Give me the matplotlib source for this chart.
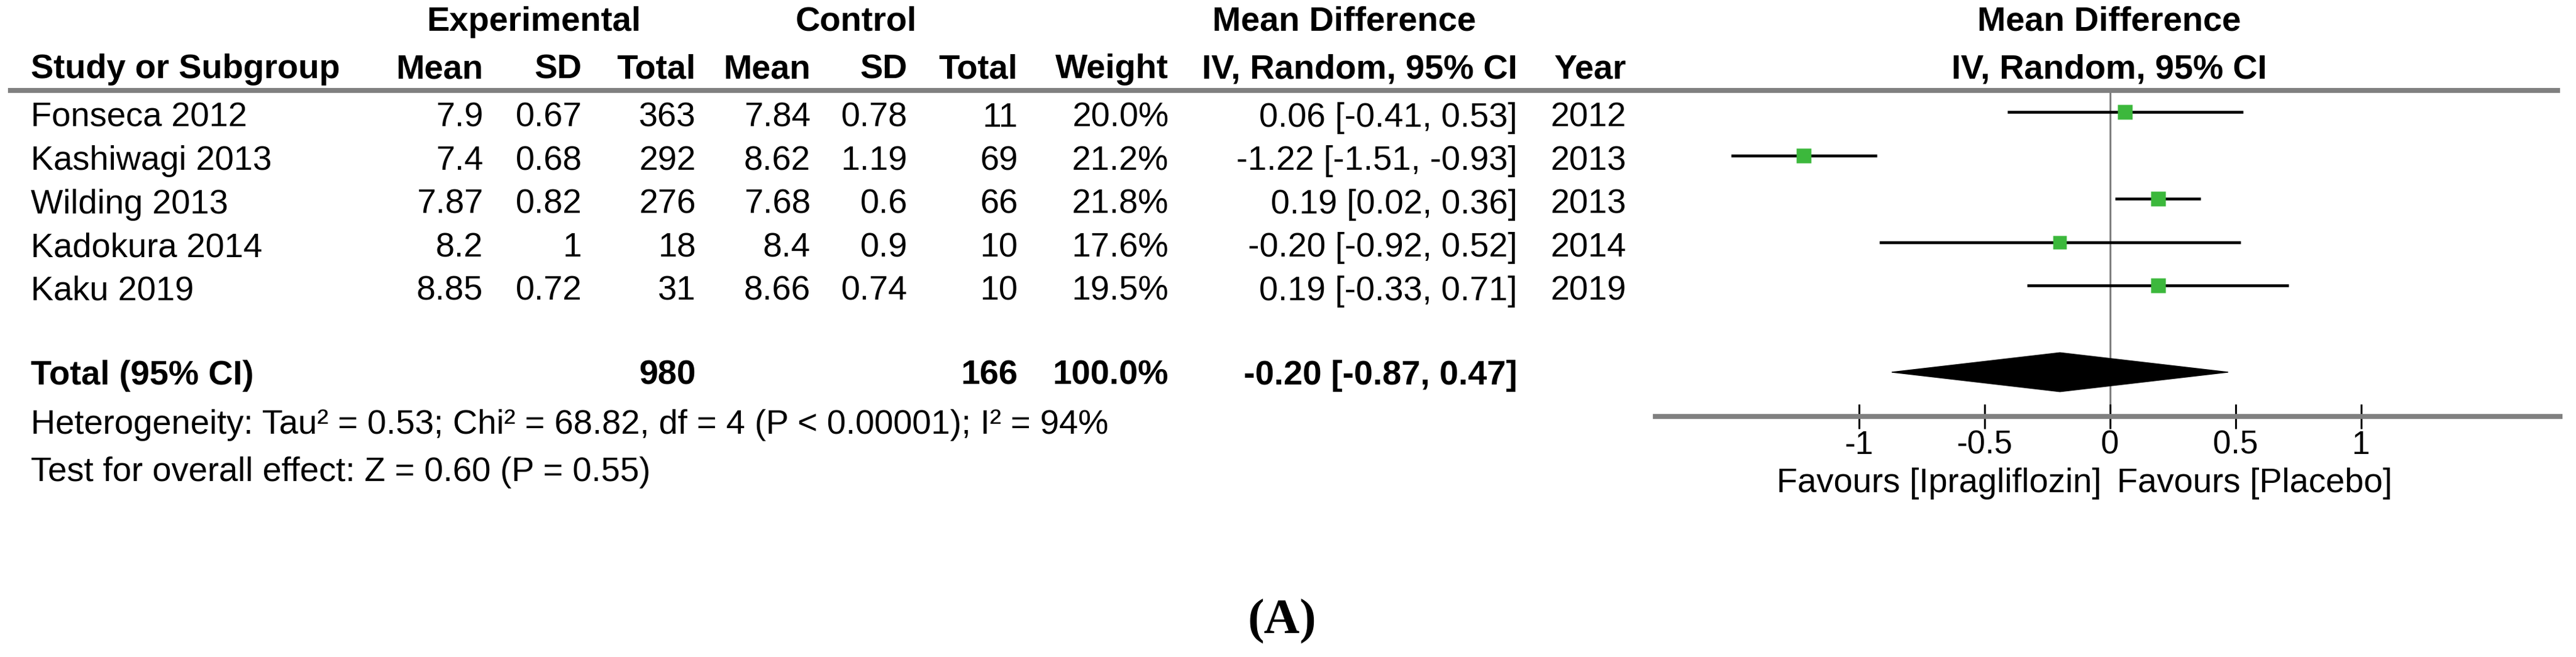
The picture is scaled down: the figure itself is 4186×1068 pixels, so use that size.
import matplotlib
matplotlib.use("Agg")
import matplotlib.pyplot as plt
from matplotlib.patches import Polygon
from matplotlib.transforms import blended_transform_factory

# ---------------- data ----------------
studies = ["Fonseca 2012", "Kashiwagi 2013", "Wilding 2013", "Kadokura 2014", "Kaku 2019"]
exp_mean = [7.9, 7.4, 7.87, 8.2, 8.85]
exp_sd = [0.67, 0.68, 0.82, 1, 0.72]
exp_n = [363, 292, 276, 18, 31]
ctl_mean = [7.84, 8.62, 7.68, 8.4, 8.66]
ctl_sd = [0.78, 1.19, 0.6, 0.9, 0.74]
ctl_n = [11, 69, 66, 10, 10]
weights = [20.0, 21.2, 21.8, 17.6, 19.5]
md = [0.06, -1.22, 0.19, -0.20, 0.19]
ci_lo = [-0.41, -1.51, 0.02, -0.92, -0.33]
ci_hi = [0.53, -0.93, 0.36, 0.52, 0.71]
years = [2012, 2013, 2013, 2014, 2019]

total_exp_n = 980
total_ctl_n = 166
total_weight = 100.0
total_md = -0.20
total_lo = -0.87
total_hi = 0.47
heterogeneity = "Heterogeneity: Tau\u00b2 = 0.53; Chi\u00b2 = 68.82, df = 4 (P < 0.00001); I\u00b2 = 94%"
overall = "Test for overall effect: Z = 0.60 (P = 0.55)"

x_ticks = [-1, -0.5, 0, 0.5, 1]
x_ticklabels = ["-1", "-0.5", "0", "0.5", "1"]
favours_left = "Favours [Ipragliflozin]"
favours_right = "Favours [Placebo]"
panel_label = "(A)"

# ---------------- style ----------------
FONT = "Liberation Sans"
FS = 40
GREEN = "#3cb83c"
GRAY = "#808080"

W, H = 4186, 1068
fig = plt.figure(figsize=(W / 100, H / 100), dpi=100)

bg = fig.add_axes([0, 0, 1, 1])
bg.set_xlim(0, W)
bg.set_ylim(H, 0)
bg.axis("off")

# forest axes (pixel layout of the panel)
fx0, fx1 = 2690, 4160
fy_top, fy_bot = 147, 677
zero_px, unit_px = 3429, 408
row0_px, row_step = 182, 70.5

fa = fig.add_axes([fx0 / W, 1 - fy_bot / H, (fx1 - fx0) / W, (fy_bot - fy_top) / H])
fa.set_xlim((fx0 - zero_px) / unit_px, (fx1 - zero_px) / unit_px)
fa.set_ylim((fy_bot - row0_px) / row_step, (fy_top - row0_px) / row_step)
fa.patch.set_alpha(0)
for s in ("left", "right", "top"):
    fa.spines[s].set_visible(False)
fa.spines["bottom"].set_color(GRAY)
fa.spines["bottom"].set_linewidth(5.8)
fa.set_yticks([])
fa.set_xticks(x_ticks)
fa.set_xticklabels(x_ticklabels, fontfamily=FONT)
fa.tick_params(axis="x", direction="inout", length=29, width=2.2, color="black",
               labelsize=38, pad=1)
for t, v in zip(fa.xaxis.get_major_ticks(), x_ticks):
    if v == 0:
        t.tick1line.set_color(GRAY)

rows = list(range(len(studies)))
total_row = 6

fa.axvline(0, color=GRAY, lw=2.2, zorder=1)
fa.hlines(rows, ci_lo, ci_hi, color="black", lw=3.3, zorder=2)
for r, m, w in zip(rows, md, weights):
    fa.plot([m], [r], marker="s", ms=17 * (w / 20.0) ** 0.5, color=GREEN,
            mec="none", zorder=3)
dh = 0.45
fa.add_patch(Polygon([(total_lo, total_row), (total_md, total_row - dh),
                      (total_hi, total_row), (total_md, total_row + dh)],
                     closed=True, color="black", zorder=3))

# ---------------- table text ----------------
tr = blended_transform_factory(bg.transData, fa.transData)
off = 0.34  # baseline offset below row centre (rows)


def txt(x, y, s, ha="right", bold=False, transform=None, size=FS, **kw):
    bg.text(x, y, s, ha=ha, va="baseline", fontsize=size, fontfamily=FONT,
            fontweight="bold" if bold else "normal",
            transform=transform if transform is not None else bg.transData, **kw)


# top headers
txt(867, 50, "Experimental", ha="center", bold=True)
txt(1391, 50, "Control", ha="center", bold=True)
txt(2184, 50, "Mean Difference", ha="center", bold=True)
txt(3427, 50, "Mean Difference", ha="center", bold=True)

# column headers
txt(50, 127, "Study or Subgroup", ha="left", bold=True)
col_x = [785, 946, 1131, 1317, 1475, 1654, 1899, 2466, 2642]
col_hdr = ["Mean", "SD", "Total", "Mean", "SD", "Total", "Weight", "IV, Random, 95% CI", "Year"]
for x, h in zip(col_x, col_hdr):
    txt(x, 127, h, bold=True)
txt(3427, 127, "IV, Random, 95% CI", ha="center", bold=True)

# header rule
bg.plot([13, 4160], [147, 147], color=GRAY, lw=5.8, solid_capstyle="butt")

# rows
for i in rows:
    y = i + off
    txt(50, y, studies[i], ha="left", transform=tr)
    vals = [f"{exp_mean[i]:g}", f"{exp_sd[i]:g}", f"{exp_n[i]}",
            f"{ctl_mean[i]:g}", f"{ctl_sd[i]:g}", f"{ctl_n[i]}",
            f"{weights[i]:.1f}%",
            f"{md[i]:.2f} [{ci_lo[i]:.2f}, {ci_hi[i]:.2f}]",
            f"{years[i]}"]
    for x, v in zip(col_x, vals):
        txt(x, y, v, transform=tr)

# total row
yt = total_row + 0.28
txt(50, yt, "Total (95% CI)", ha="left", bold=True, transform=tr)
txt(1131, yt, f"{total_exp_n}", bold=True, transform=tr)
txt(1654, yt, f"{total_ctl_n}", bold=True, transform=tr)
txt(1899, yt, f"{total_weight:.1f}%", bold=True, transform=tr)
txt(2466, yt, f"{total_md:.2f} [{total_lo:.2f}, {total_hi:.2f}]", bold=True, transform=tr)

txt(50, 705, heterogeneity, ha="left")
txt(50, 782, overall, ha="left")

# favours labels
txt(3415, 800, favours_left, ha="right")
txt(3440, 800, favours_right, ha="left")

# panel label
bg.text(2083, 1010, panel_label, ha="center", va="center", fontsize=58,
        fontfamily="Liberation Serif", fontweight="bold")

fig.savefig("out.png", dpi=100)
